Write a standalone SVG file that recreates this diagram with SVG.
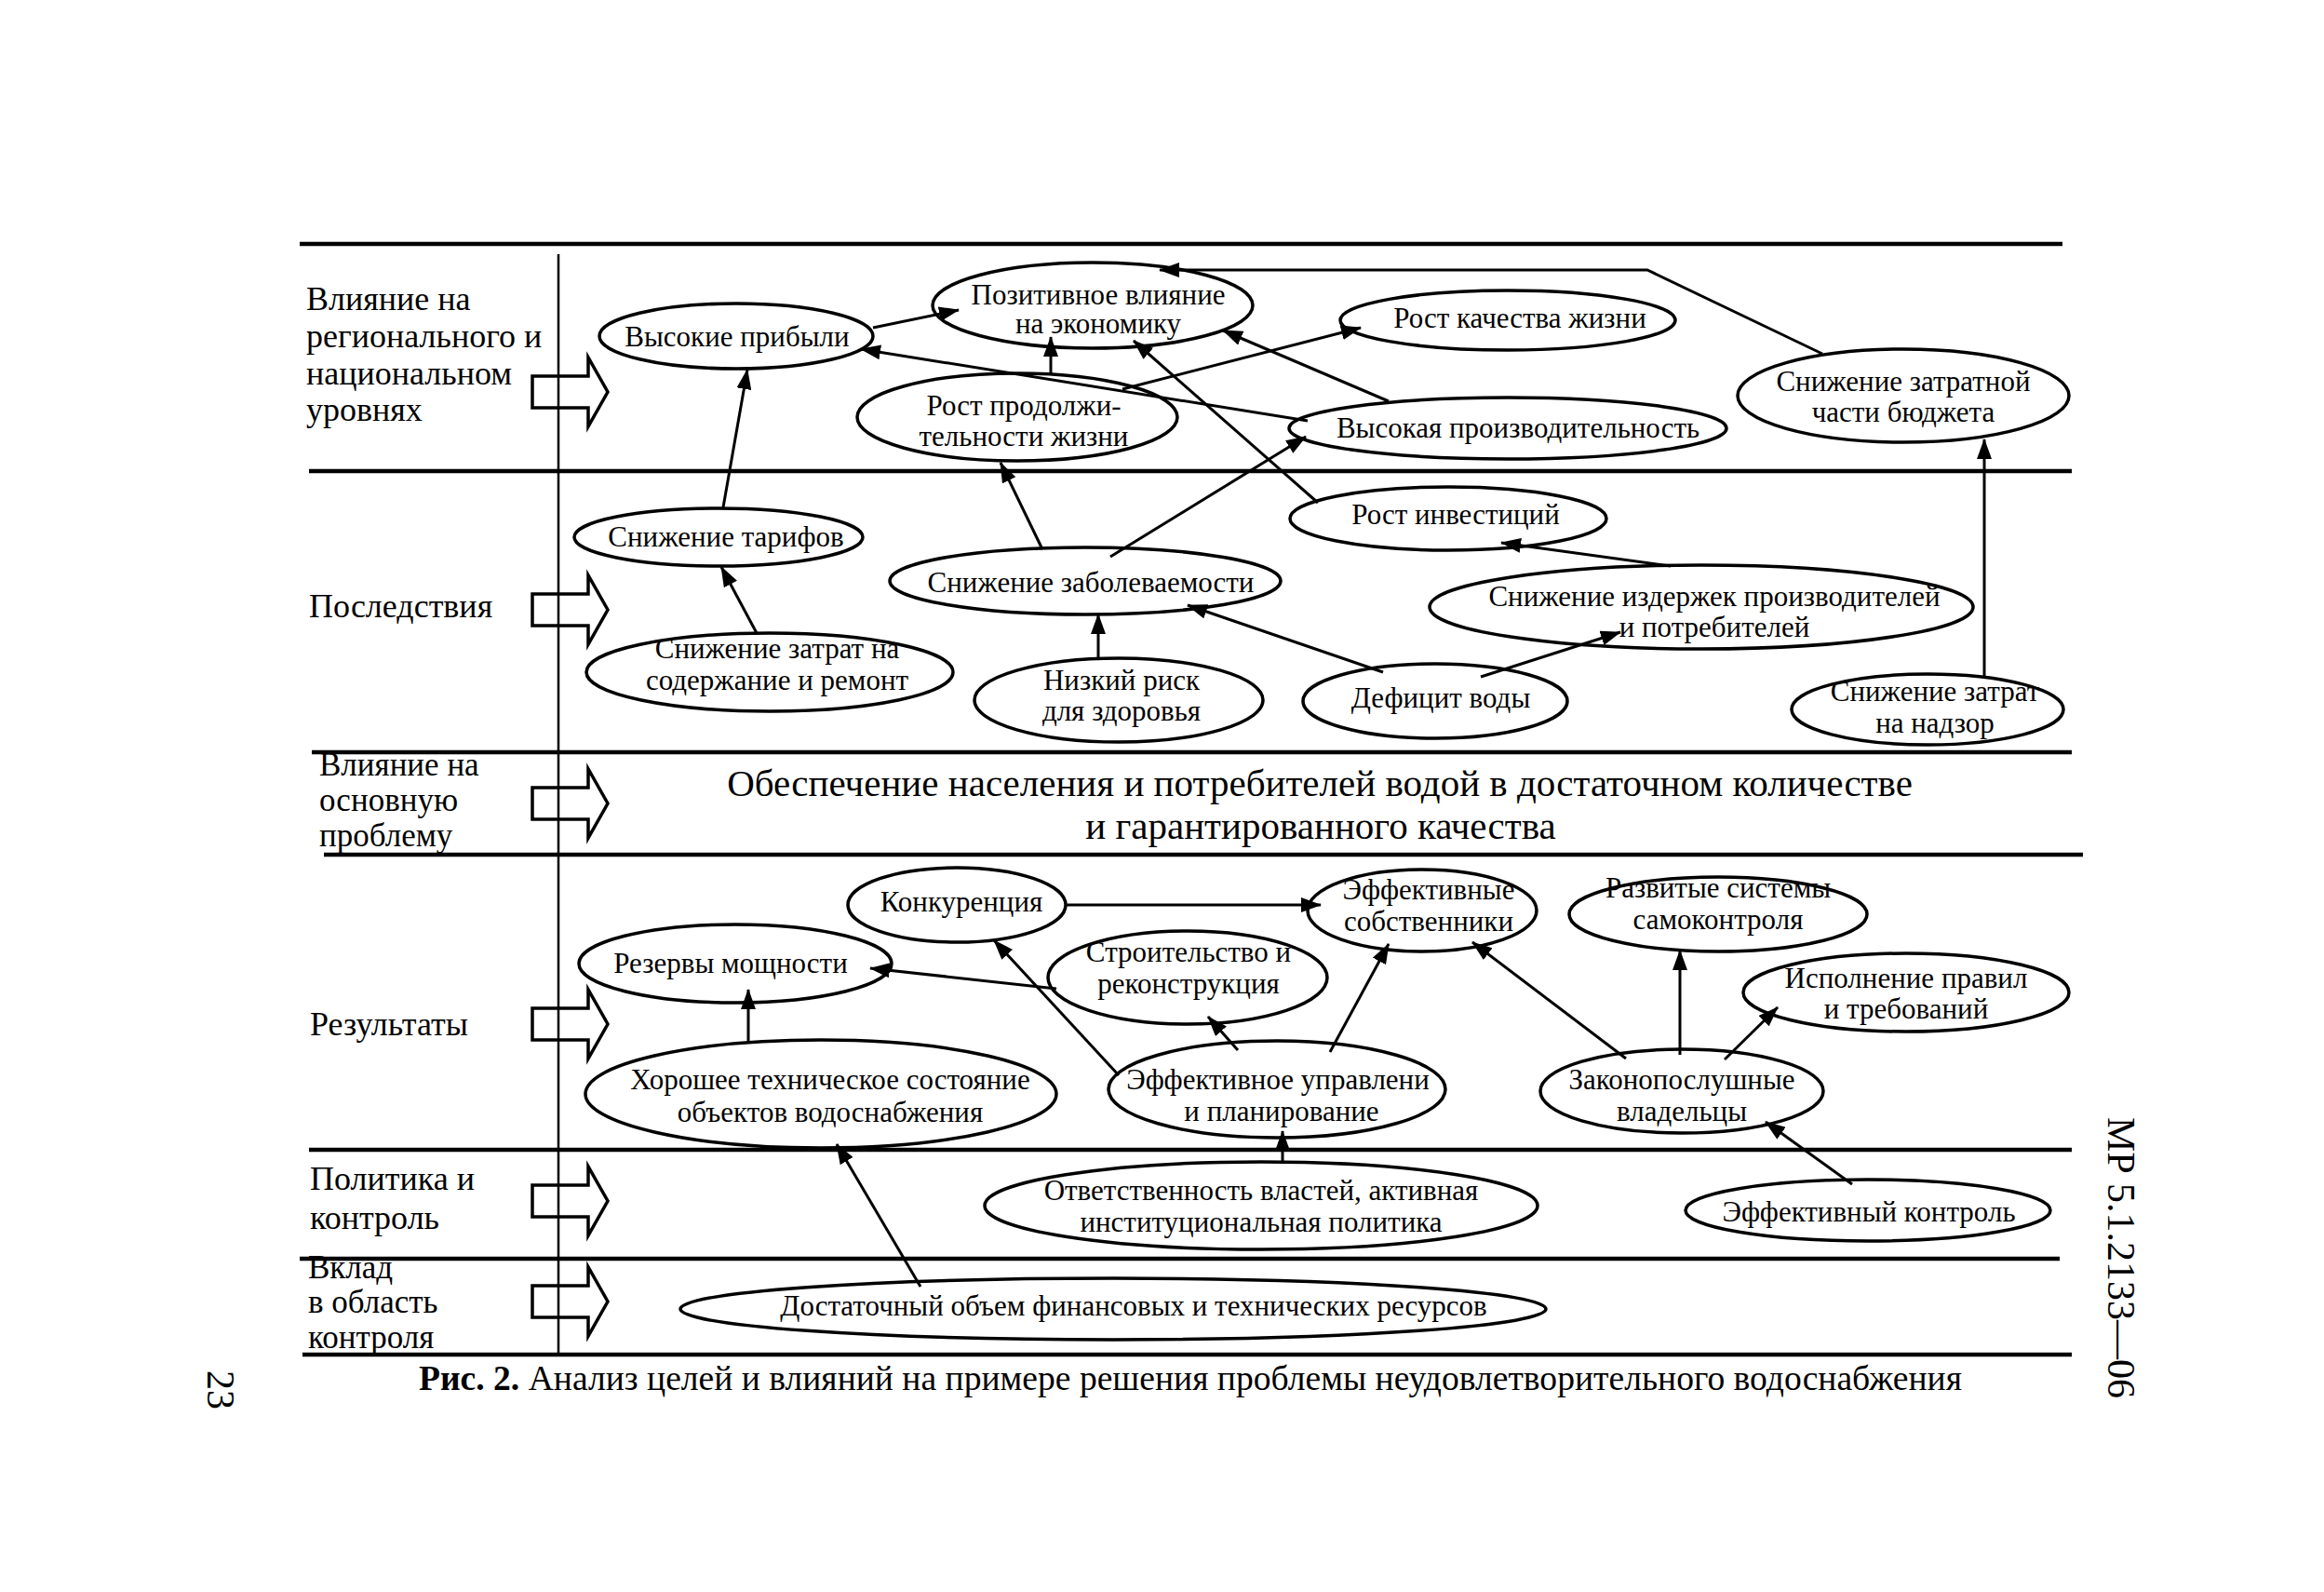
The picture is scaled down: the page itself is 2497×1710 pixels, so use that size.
<svg xmlns="http://www.w3.org/2000/svg" width="2497" height="1710" viewBox="0 0 2497 1710">
<style>
.sep{stroke:#000;stroke-width:4.5;fill:none}
.vl{stroke:#000;stroke-width:2.5;fill:none}
.blk{fill:#fff;stroke:#000;stroke-width:3.5;stroke-linejoin:miter}
.nd ellipse{fill:none;stroke:#000;stroke-width:3.5}
text{font-family:"Liberation Serif","Times New Roman",serif;fill:#000}
.t{font-size:31px;text-anchor:middle}
.lab{font-size:36px}
.lab2{font-size:35px}
.main{font-size:41px;text-anchor:middle}
.cap{font-size:37.6px}
.side{font-size:42px;text-anchor:middle}
.cn line,.cn polyline{stroke:#000;stroke-width:3;fill:none;marker-end:url(#ah)}
</style>
<defs>
<marker id="ah" markerUnits="userSpaceOnUse" markerWidth="22" markerHeight="16" refX="21" refY="8" orient="auto">
<path d="M0,0 L22,8 L0,16 Z" fill="#000"/>
</marker>
<path id="ba" d="M572,-17 H632 V-37 L653,0 L632,37 V17 H572 Z"/>
</defs>
<rect width="2497" height="1710" fill="#fff"/>

<g id="frame">
<line class="sep" x1="322" y1="262" x2="2216" y2="262"/>
<line class="sep" x1="332" y1="506" x2="2226" y2="506"/>
<line class="sep" x1="335" y1="808" x2="2226" y2="808"/>
<line class="sep" x1="348" y1="918" x2="2238" y2="918"/>
<line class="sep" x1="332" y1="1235" x2="2226" y2="1235"/>
<line class="sep" x1="322" y1="1352" x2="2213" y2="1352"/>
<line class="sep" x1="325" y1="1455" x2="2226" y2="1455"/>
<use href="#ba" class="blk" transform="translate(0,421)"/>
<use href="#ba" class="blk" transform="translate(0,655)"/>
<use href="#ba" class="blk" transform="translate(0,863)"/>
<use href="#ba" class="blk" transform="translate(0,1100)"/>
<use href="#ba" class="blk" transform="translate(0,1290)"/>
<use href="#ba" class="blk" transform="translate(0,1398)"/>
<line class="vl" x1="600" y1="273" x2="600" y2="1453"/>
</g>

<g id="labels">
<text class="lab" x="329" y="333">Влияние на</text>
<text class="lab" x="329" y="373">регионального и</text>
<text class="lab" x="329" y="413">национальном</text>
<text class="lab" x="329" y="452">уровнях</text>
<text class="lab" x="332" y="663">Последствия</text>
<text class="lab2" x="343" y="833">Влияние на</text>
<text class="lab2" x="343" y="871">основную</text>
<text class="lab2" x="343" y="909">проблему</text>
<text class="lab" x="333" y="1112">Результаты</text>
<text class="lab" x="333" y="1278">Политика и</text>
<text class="lab" x="333" y="1320">контроль</text>
<text class="lab2" x="331" y="1373">Вклад</text>
<text class="lab2" x="331" y="1410">в область</text>
<text class="lab2" x="331" y="1448">контроля</text>
</g>

<g id="goal">
<text class="main" x="1418" y="855">Обеспечение населения и потребителей водой в достаточном количестве</text>
<text class="main" x="1419" y="901">и гарантированного качества</text>
</g>

<g id="connectors" class="cn">
<line x1="777" y1="545" x2="803" y2="397"/>
<line x1="813" y1="680" x2="775" y2="609"/>
<line x1="938" y1="352" x2="1030" y2="333"/>
<line x1="1129" y1="402" x2="1129" y2="362"/>
<line x1="1405" y1="452" x2="925" y2="375"/>
<line x1="1206" y1="418" x2="1462" y2="352"/>
<line x1="1492" y1="431" x2="1314" y2="355"/>
<line x1="1416" y1="540" x2="1218" y2="366"/>
<line x1="1120" y1="590" x2="1075" y2="497"/>
<line x1="1193" y1="598" x2="1403" y2="469"/>
<line x1="1180" y1="707" x2="1180" y2="660"/>
<line x1="1486" y1="722" x2="1276" y2="650"/>
<line x1="1591" y1="727" x2="1741" y2="679"/>
<line x1="1795" y1="608" x2="1613" y2="583"/>
<line x1="2132" y1="727" x2="2132" y2="472"/>
<polyline points="1958,380 1770,290 1246,290"/>
<line x1="1145" y1="972" x2="1419" y2="972"/>
<line x1="1135" y1="1062" x2="935" y2="1040"/>
<line x1="804" y1="1120" x2="804" y2="1063"/>
<line x1="1202" y1="1155" x2="1068" y2="1010"/>
<line x1="1330" y1="1128" x2="1298" y2="1092"/>
<line x1="1429" y1="1130" x2="1492" y2="1014"/>
<line x1="1747" y1="1137" x2="1582" y2="1012"/>
<line x1="1805" y1="1133" x2="1805" y2="1021"/>
<line x1="1853" y1="1138" x2="1910" y2="1082"/>
<line x1="1990" y1="1272" x2="1897" y2="1205"/>
<line x1="1378" y1="1250" x2="1378" y2="1215"/>
<line x1="989" y1="1382" x2="899" y2="1229"/>
</g>

<g id="n1" class="nd"><ellipse cx="791" cy="361" rx="147" ry="35"/><text class="t" x="792" y="372">Высокие прибыли</text></g>
<g id="n2" class="nd"><ellipse cx="1174" cy="328" rx="172" ry="46"/><text class="t" x="1180" y="327">Позитивное влияние</text><text class="t" x="1180" y="358">на экономику</text></g>
<g id="n3" class="nd"><ellipse cx="1620" cy="344" rx="180" ry="32"/><text class="t" x="1633" y="352">Рост качества жизни</text></g>
<g id="n4" class="nd"><ellipse cx="1093" cy="448" rx="172" ry="47"/><text class="t" x="1100" y="446">Рост продолжи-</text><text class="t" x="1100" y="479">тельности жизни</text></g>
<g id="n5" class="nd"><ellipse cx="1620" cy="460" rx="235" ry="33"/><text class="t" x="1631" y="470">Высокая производительность</text></g>
<g id="n6" class="nd"><ellipse cx="2045" cy="425" rx="178" ry="50"/><text class="t" x="2045" y="420">Снижение затратной</text><text class="t" x="2045" y="453">части бюджета</text></g>
<g id="n7" class="nd"><ellipse cx="772" cy="577" rx="155" ry="31"/><text class="t" x="780" y="587">Снижение тарифов</text></g>
<g id="n8" class="nd"><ellipse cx="1556" cy="557" rx="170" ry="34"/><text class="t" x="1564" y="563">Рост инвестиций</text></g>
<g id="n9" class="nd"><ellipse cx="1166" cy="624" rx="210" ry="36"/><text class="t" x="1172" y="636">Снижение заболеваемости</text></g>
<g id="n10" class="nd"><ellipse cx="1828" cy="652" rx="292" ry="45"/><text class="t" x="1842" y="651">Снижение издержек производителей</text><text class="t" x="1842" y="684">и потребителей</text></g>
<g id="n11" class="nd"><ellipse cx="827" cy="722" rx="197" ry="42"/><text class="t" x="835" y="707">Снижение затрат на</text><text class="t" x="835" y="741">содержание и ремонт</text></g>
<g id="n12" class="nd"><ellipse cx="1202" cy="752" rx="155" ry="45"/><text class="t" x="1205" y="741">Низкий риск</text><text class="t" x="1205" y="774">для здоровья</text></g>
<g id="n13" class="nd"><ellipse cx="1542" cy="753" rx="142" ry="40"/><text class="t" x="1548" y="760">Дефицит воды</text></g>
<g id="n14" class="nd"><ellipse cx="2071" cy="762" rx="146" ry="38"/><text class="t" x="2079" y="753">Снижение затрат</text><text class="t" x="2079" y="787">на надзор</text></g>
<g id="n15" class="nd"><ellipse cx="1028" cy="972" rx="117" ry="40"/><text class="t" x="1033" y="979">Конкуренция</text></g>
<g id="n16" class="nd"><ellipse cx="1528" cy="978" rx="123" ry="44"/><text class="t" x="1535" y="966">Эффективные</text><text class="t" x="1535" y="1000">собственники</text></g>
<g id="n17" class="nd"><ellipse cx="1846" cy="982" rx="160" ry="40"/><text class="t" x="1846" y="964">Развитые системы</text><text class="t" x="1846" y="998">самоконтроля</text></g>
<g id="n18" class="nd"><ellipse cx="790" cy="1035" rx="168" ry="42"/><text class="t" x="785" y="1045">Резервы мощности</text></g>
<g id="n19" class="nd"><ellipse cx="1276" cy="1050" rx="150" ry="50"/><text class="t" x="1277" y="1033">Строительство и</text><text class="t" x="1277" y="1067">реконструкция</text></g>
<g id="n20" class="nd"><ellipse cx="2048" cy="1066" rx="175" ry="42"/><text class="t" x="2048" y="1061">Исполнение правил</text><text class="t" x="2048" y="1094">и требований</text></g>
<g id="n21" class="nd"><ellipse cx="882" cy="1175" rx="253" ry="58"/><text class="t" x="892" y="1170">Хорошее техническое состояние</text><text class="t" x="892" y="1205">объектов водоснабжения</text></g>
<g id="n22" class="nd"><ellipse cx="1372" cy="1170" rx="181" ry="52"/><text class="t" x="1373" y="1170">Эффективное управлени</text><text class="t" x="1377" y="1204">и планирование</text></g>
<g id="n23" class="nd"><ellipse cx="1807" cy="1172" rx="152" ry="45"/><text class="t" x="1807" y="1170">Законопослушные</text><text class="t" x="1807" y="1204">владельцы</text></g>
<g id="n24" class="nd"><ellipse cx="1355" cy="1295" rx="297" ry="47"/><text class="t" x="1355" y="1289">Ответственность властей, активная</text><text class="t" x="1355" y="1323">институциональная политика</text></g>
<g id="n25" class="nd"><ellipse cx="2007" cy="1300" rx="196" ry="33"/><text class="t" x="2008" y="1312">Эффективный контроль</text></g>
<g id="n26" class="nd"><ellipse cx="1196" cy="1406" rx="465" ry="33"/><text class="t" x="1218" y="1413">Достаточный объем финансовых и технических ресурсов</text></g>

<g id="caption">
<text class="cap" x="450" y="1493"><tspan font-weight="bold">Рис. 2.</tspan> Анализ целей и влияний на примере решения проблемы неудовлетворительного водоснабжения</text>
<text class="side" transform="translate(2265,1351) rotate(90)" x="0" y="0">МР 5.1.2133—06</text>
<text class="side" transform="translate(223,1493) rotate(90)" x="0" y="0">23</text>
</g>
</svg>
